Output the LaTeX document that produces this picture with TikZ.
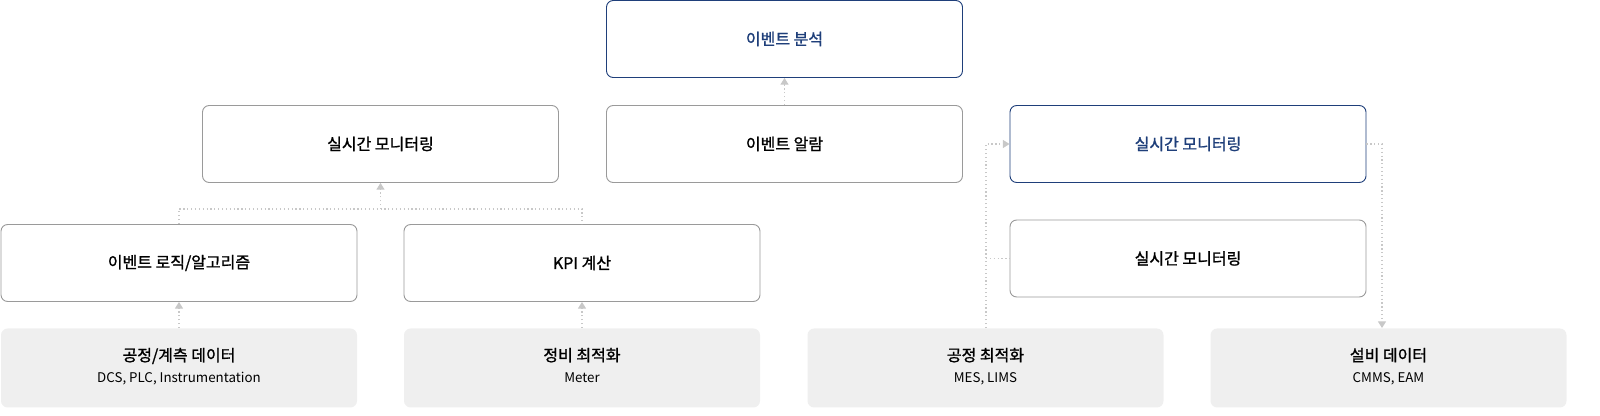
\documentclass[tikz,border=0pt]{standalone}
\usepackage{fontspec}
\setmainfont{Noto Sans CJK KR}
\newfontfamily\medfont[FakeBold=1.2]{Noto Sans CJK KR}
\usetikzlibrary{arrows.meta}
\definecolor{bl}{HTML}{1F3F7A}
\definecolor{bd}{HTML}{9A9A9A}
\definecolor{gf}{HTML}{EFEFEF}
\definecolor{ln}{HTML}{C8C8C8}
\newcommand\subtxt{\mdseries\fontsize{10}{12}\selectfont}
\tikzset{
  box/.style={draw=bd,line width=0.7pt,rounded corners=5pt,fill=white,minimum width=356*0.75pt,minimum height=77*0.75pt,font=\medfont\fontsize{12}{14}\selectfont,text=black,inner sep=0pt},
  bbox/.style={box,draw=bl,text=bl},
  gbox/.style={box,draw=none,fill=gf,minimum height=79*0.75pt},
  con/.style={draw=ln,line width=0.9pt,dotted},
  arr/.style={con,-{Triangle[width=6pt,length=5pt,fill=ln]}}
}
\begin{document}
\begin{tikzpicture}[x=0.75pt,y=-0.75pt]
\useasboundingbox (0,0) rectangle (1600,416);
\node[bbox] (ea) at (784.5,39) {이벤트 분석};
\node[box] (rm1) at (380.5,144) {실시간 모니터링};
\node[box] (al) at (784.5,144) {이벤트 알람};
\node[bbox] (rm2) at (1188,144) {실시간 모니터링};
\node[box] (rm3) at (1188,258.5) {실시간 모니터링};
\node[box] (lg) at (179,263) {이벤트 로직/알고리즘};
\node[box] (kpi) at (582,263) {KPI 계산};
\node[gbox] (d1) at (179,368) {\begin{tabular}{c}공정/계측 데이터\\[2pt]{\subtxt\rmfamily DCS, PLC, Instrumentation}\end{tabular}};
\node[gbox] (d2) at (582,368) {\begin{tabular}{c}정비 최적화\\[2pt]{\subtxt\rmfamily Meter}\end{tabular}};
\node[gbox] (d3) at (985.5,368) {\begin{tabular}{c}공정 최적화\\[2pt]{\subtxt\rmfamily MES, LIMS}\end{tabular}};
\node[gbox] (d4) at (1388.5,368) {\begin{tabular}{c}설비 데이터\\[2pt]{\subtxt\rmfamily CMMS, EAM}\end{tabular}};
\coordinate (j1) at (179,209);
\coordinate (j2) at (582,209);
\coordinate (jm) at (380.5,209);
\coordinate (k1) at (986,144);
\coordinate (k2) at (986,258.5);
\coordinate (m1) at (1382,144);
\draw[arr] (al.north) -- (ea.south);
\draw[con] (lg.north) -- (j1) -- (j2) -- (kpi.north);
\draw[arr] (jm) -- (rm1.south);
\draw[arr] (d1.north) -- (lg.south);
\draw[arr] (d2.north) -- (kpi.south);
\draw[arr] (d3.north -| k1) -- (k1) -- (rm2.west);
\draw[con] (k2) -- (rm3.west);
\draw[arr] (rm2.east) -- (m1) -- (m1 |- d4.north);
\end{tikzpicture}
\end{document}
